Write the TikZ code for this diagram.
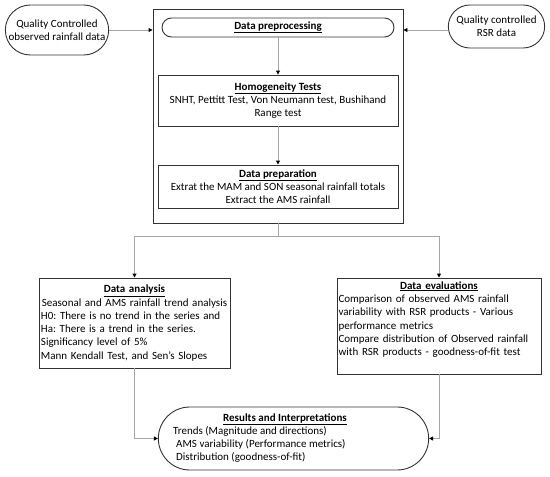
\documentclass[tikz,border=0pt]{standalone}
\usepackage{fontspec}
\setmainfont{Carlito}
\usetikzlibrary{arrows.meta,shapes.misc}
\definecolor{boxc}{HTML}{333333}
\definecolor{linec}{HTML}{A6A6A6}
\newcommand\hdr[1]{\underline{\textbf{#1}}}
\frenchspacing
\tikzset{
 box/.style={draw=boxc, line width=0.9pt},
 term/.style={rounded rectangle, draw=boxc, line width=0.9pt},
 conn/.style={draw=linec, line width=0.9pt, -{Triangle[black,length=4pt,width=4pt]}},
 plain/.style={draw=linec, line width=0.9pt},
 txt/.style={font=\fontsize{11}{13.3}\selectfont, text=black}
}
\begin{document}
\begin{tikzpicture}[x=1pt,y=-1pt]
\useasboundingbox (0,0) rectangle (550,477);
\node[term, minimum width=110pt, minimum height=50pt, txt, align=center] (lterm) at (57,30) {Quality Controlled\\observed rainfall data};
\node[term, minimum width=103pt, minimum height=43pt, txt, align=center] (rterm) at (496.5,26.5) {Quality controlled\\RSR data};
\node[box, minimum width=250pt, minimum height=214pt] (big) at (278,116) {};
\node[term, minimum width=232pt, minimum height=19pt, inner sep=0pt, txt] (pre) at (278,27.5) {\hdr{Data preprocessing}};
\node[box, minimum width=240pt, minimum height=51pt, inner sep=1pt, txt, align=center] (homo) at (278,100.5) {\hdr{Homogeneity Tests}\\SNHT, Pettitt Test, Von Neumann test, Bushihand\\Range test};
\node[box, minimum width=240pt, minimum height=43pt, inner sep=1pt, txt, align=center] (prep) at (278,186.5) {\hdr{Data preparation}\\Extrat the MAM and SON seasonal rainfall totals\\Extract the AMS rainfall};
\node[box, minimum width=191pt, minimum height=90pt, txt, text width=187pt, inner sep=2pt, align=left] (ana) at (134.5,323) {{\centering \hdr{Data analysis}\\Seasonal and AMS rainfall trend analysis\par}H0: There is no trend in the series and\\Ha: There is a trend in the series.\\Significancy level of 5\%\\Mann Kendall Test, and Sen's Slopes};
\node[box, minimum width=204pt, minimum height=96pt, txt, text width=201pt, inner sep=1.5pt, align=left] (ev) at (439,326) {{\centering \hdr{Data evaluations}\par}Comparison of observed AMS rainfall\\variability with RSR products - Various\\performance metrics\\Compare distribution of Observed rainfall\\with RSR products - goodness-of-fit test\par\vspace{13pt}};
\node[term, minimum width=277pt, minimum height=63pt] (res) at (293.5,438.5) {};
\node[txt, inner sep=0pt] (restitle) at (285,419) {\hdr{Results and Interpretations}};
\node[txt, inner sep=0pt, align=left, anchor=north west] (resbody) at (173,426) {Trends (Magnitude and directions)\\\hspace*{3pt}AMS variability (Performance metrics)\\\hspace*{3pt}Distribution (goodness-of-fit)};
\coordinate (split) at (278,236);
\draw[conn] (lterm.east) -- (big.west |- lterm.east);
\draw[conn] (rterm.west |- lterm.east) -- (big.east |- lterm.east);
\draw[conn] (pre.south) -- (homo.north);
\draw[conn] (homo.south) -- (prep.north);
\draw[plain] (big.south) -- (split);
\draw[conn] (split) -| (ana.north);
\draw[conn] (split) -| (ev.north);
\draw[conn] (ana.south) |- (res.west);
\draw[conn] (ev.south) |- (res.east);
\end{tikzpicture}
\end{document}
